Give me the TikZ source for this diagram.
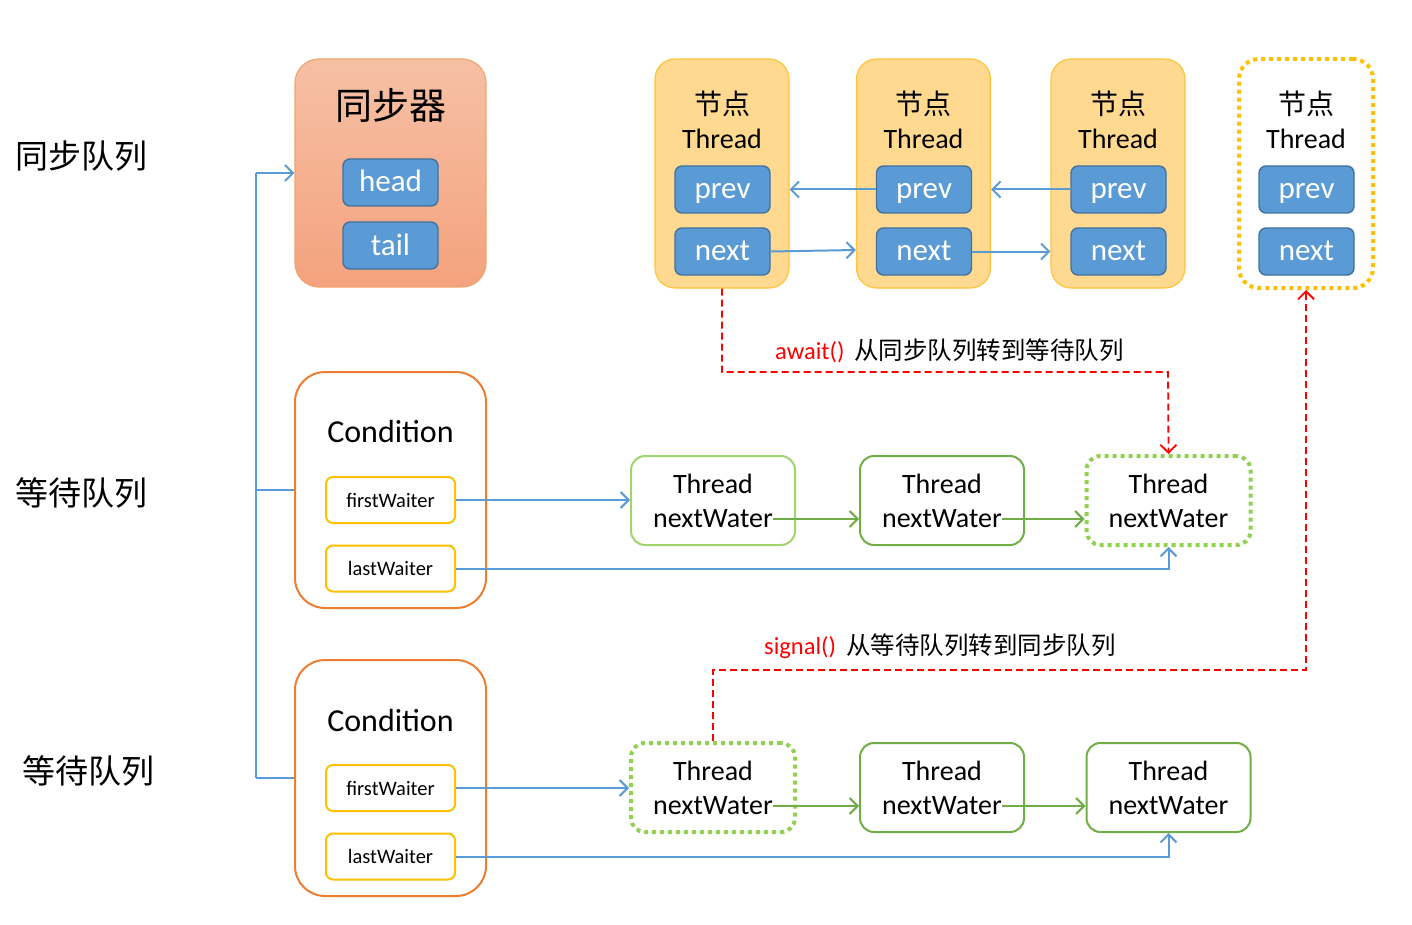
\documentclass[tikz,border=0pt]{standalone}
\usepackage{fontspec}
\setmainfont{Carlito}
\newfontfamily\cjk{Noto Sans CJK SC}
\usetikzlibrary{arrows.meta}
\definecolor{lblue}{RGB}{91,155,213}
\definecolor{dblue}{RGB}{65,113,156}
\definecolor{orgline}{RGB}{237,125,49}
\definecolor{synctop}{RGB}{246,192,165}
\definecolor{syncbot}{RGB}{244,162,125}
\definecolor{nodefill}{RGB}{255,217,143}
\definecolor{nodeline}{RGB}{255,196,60}
\definecolor{gold}{RGB}{255,192,0}
\definecolor{lgreen}{RGB}{146,208,80}
\definecolor{mgreen}{RGB}{112,173,71}
\definecolor{agreen}{RGB}{160,212,110}
\tikzset{
  x=1pt, y=-1pt,
  >={Straight Barb[length=8pt,width=16pt]},
  txt/.style={inner sep=0pt, outer sep=0pt, anchor=center},
  syncbox/.style={draw=orgline!70, line width=1.2pt, rounded corners=24pt, top color=synctop, bottom color=syncbot, minimum width=191pt, minimum height=228pt, inner sep=0pt},
  fieldbox/.style={draw=dblue, line width=1.4pt, fill=lblue, rounded corners=7pt, minimum width=95pt, minimum height=47pt, inner sep=0pt, text=white, font=\fontsize{31}{34}\selectfont, text height=19pt, text depth=0pt},
  nodebox/.style={draw=nodeline, line width=1.2pt, fill=nodefill, rounded corners=20pt, minimum width=134pt, minimum height=229pt, inner sep=0pt},
  dotnodebox/.style={draw=gold, line width=4pt, dash pattern=on 4pt off 4pt, rounded corners=20pt, minimum width=134pt, minimum height=229pt, inner sep=0pt},
  condbox/.style={draw=orgline, line width=2pt, fill=white, rounded corners=30pt, minimum width=191pt, minimum height=236pt, inner sep=0pt},
  waitbox/.style={draw=gold, line width=2pt, fill=white, rounded corners=7pt, minimum width=129pt, minimum height=46pt, inner sep=0pt, font=\fontsize{20.5}{24}\selectfont},
  thbox/.style={line width=2pt, rounded corners=14pt, minimum width=164pt, minimum height=89pt, inner sep=0pt},
  dotthbox/.style={draw=lgreen, line width=4pt, dash pattern=on 4pt off 4pt, rounded corners=14pt, minimum width=164pt, minimum height=89pt, inner sep=0pt},
  bl/.style={draw=lblue, line width=2pt},
  gr/.style={draw=mgreen, line width=2pt},
  rd/.style={draw=red, line width=1.8pt, dash pattern=on 7pt off 4pt},
  f28/.style={font=\fontsize{28}{32}\selectfont},
  lab/.style={inner sep=0pt, anchor=west, font=\fontsize{33}{36}\selectfont\cjk},
}
\begin{document}
\begin{tikzpicture}
\useasboundingbox (0,0) rectangle (1412,925);
\fill[white] (0,0) rectangle (1412,925);

% left labels
\node[lab] (l1) at (15,156) {同步队列};
\node[lab] (l2) at (15,493) {等待队列};
\node[lab] (l3) at (22,771) {等待队列};

% synchronizer
\node[syncbox] (sync) at (390.5,173) {};
\node[txt, font=\fontsize{37}{40}\selectfont\cjk] (synct) at (390.5,105) {同步器};
\node[fieldbox] (head) at (390.5,182.5) {head};
\node[fieldbox] (tail) at (390.5,245.5) {tail};

% nodes
\foreach \i/\x/\s in {1/722/nodebox,2/923.5/nodebox,3/1118/nodebox,4/1306/dotnodebox}{
  \node[\s] (n\i) at (\x,173.5) {};
  \node[txt, font=\fontsize{28}{32}\selectfont\cjk] (nt\i) at (\x,104) {节点};
  \node[txt, f28] (nth\i) at (\x,139) {Thread};
  \node[fieldbox] (p\i) at (\x+0.5,189.5) {prev};
  \node[fieldbox] (x\i) at (\x+0.5,251.5) {next};
}

\draw[bl,->] (p2.west) -- (p2.west -| n1.east);
\draw[bl,->] (p3.west) -- (p3.west -| n2.east);
\draw[bl,->] (x1.east) -- (n2.west |- 0,250);
\draw[bl,->] (x2.east) -- (x2.east -| n3.west);

% conditions
\foreach \k/\y in {1/490,2/778}{
  \node[condbox] (c\k) at (390.5,\y) {};
  \node[txt, font=\fontsize{32}{36}\selectfont] (ct\k) at (390.5,\y-58) {Condition};
  \node[waitbox] (fw\k) at (390.5,\y+10) {firstWaiter};
  \node[waitbox] (lw\k) at (390.5,\y+78.5) {lastWaiter};
}

% thread boxes row 1
\node[thbox, draw=agreen] (a1) at (713,500.5) {};
\node[thbox, draw=mgreen] (b1) at (942,500.5) {};
\node[dotthbox] (d1) at (1168.5,500.5) {};
% row 2
\node[dotthbox] (a2) at (713,787.5) {};
\node[thbox, draw=mgreen] (b2) at (942,787.5) {};
\node[thbox, draw=mgreen] (d2) at (1168.5,787.5) {};

\foreach \n/\x/\y in {a1/713/500.5, b1/942/500.5, d1/1168.5/500.5, a2/713/787.5, b2/942/787.5, d2/1168.5/787.5}{
  \node[txt, f28] (t\n) at (\x,\y-16.5) {Thread};
  \node[txt, f28] (w\n) at (\x,\y+18.5) {nextWater};
}

\draw[gr,->] (wa1.east) -- (wa1.east -| b1.west);
\draw[gr,->] (wb1.east) -- (wb1.east -| d1.west);
\draw[gr,->] (wa2.east) -- (wa2.east -| b2.west);
\draw[gr,->] (wb2.east) -- (wb2.east -| d2.west);

% first / last waiter links
\draw[bl,->] (fw1.east) -- (fw1.east -| a1.west);
\draw[bl,->] (lw1.east) -| (d1.south);
\draw[bl,->] (fw2.east) -- (fw2.east -| a2.west);
\draw[bl,->] (lw2.east) -| (d2.south);

% left bracket
\coordinate (lbt) at (256,173);
\coordinate (lbb) at (256,778);
\draw[bl] (lbt) -- (lbb);
\draw[bl,->] (lbt) -- (sync.west);
\draw[bl] (lbt |- c1.west) -- (c1.west);
\draw[bl] (lbb) -- (c2.west);

% await
\coordinate (aw) at (1168,372);
\draw[rd,->] (n1.south) |- (aw) -- (d1.north);
\node[inner sep=0pt, anchor=west, font=\fontsize{24.5}{28}\selectfont] (awl) at (775,351) {\textcolor{red}{await()}\hspace{10pt}{\cjk 从同步队列转到等待队列}};

% signal
\coordinate (sg) at (1306,670);
\draw[rd,->] (a2.north) |- (sg) -- (n4.south);
\node[inner sep=0pt, anchor=west, font=\fontsize{24.5}{28}\selectfont] (sgl) at (764,646) {\textcolor{red}{signal()}\hspace{10pt}{\cjk 从等待队列转到同步队列}};
\end{tikzpicture}
\end{document}
